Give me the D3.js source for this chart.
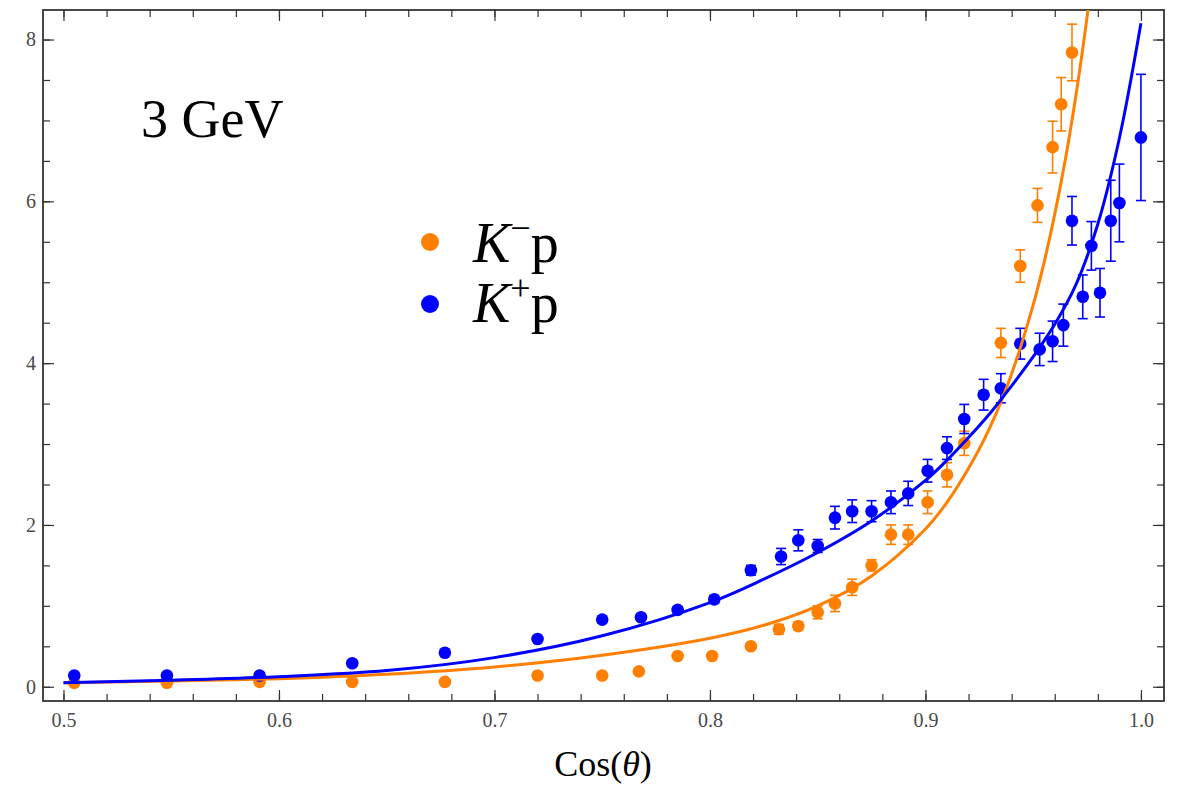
<!DOCTYPE html>
<html>
  <head>
    <meta charset="UTF-8">
    <title>3 GeV</title>
    <script src="https://cdn.jsdelivr.net/npm/d3@7"></script>
    <style>
      body { margin: 0; background: #fff; }
      svg { display: block; }
      text { font-family: "Liberation Serif", "Times New Roman", serif; }
      .tick text { fill: #4a4a4a; font-size: 20px; }
      .tick line { stroke: #333; stroke-width: 1.2; }
    </style>
  </head>
  <body>
    <svg width="1181" height="792"></svg>
  <script>

    // K- p points: cos(theta), value, error
    var kmX   = [0.505, 0.548, 0.591, 0.634, 0.677, 0.720, 0.750, 0.767, 0.785, 0.801,
                 0.819, 0.832, 0.841, 0.850, 0.858, 0.866, 0.875, 0.884, 0.892, 0.901,
                 0.910, 0.918, 0.935, 0.944, 0.952, 0.959, 0.963, 0.968];
    var kmY   = [0.05, 0.05, 0.06, 0.06, 0.06, 0.14, 0.14, 0.19, 0.38, 0.38,
                 0.50, 0.71, 0.75, 0.92, 1.03, 1.23, 1.50, 1.88, 1.88, 2.28,
                 2.62, 3.01, 4.25, 5.20, 5.95, 6.67, 7.20, 7.84];
    var kmErr = [0, 0, 0, 0, 0, 0, 0, 0, 0, 0,
                 0.03, 0.06, 0.05, 0.08, 0.10, 0.10, 0.07, 0.12, 0.12, 0.14,
                 0.15, 0.15, 0.18, 0.20, 0.21, 0.32, 0.33, 0.35];

    // K+ p points
    var kpX   = [0.505, 0.548, 0.591, 0.634, 0.677, 0.720, 0.750, 0.768, 0.785, 0.802,
                 0.819, 0.833, 0.841, 0.850, 0.858, 0.866, 0.875, 0.884, 0.892, 0.901,
                 0.910, 0.918, 0.927, 0.935, 0.944, 0.953, 0.959, 0.964, 0.968, 0.973,
                 0.977, 0.981, 0.986, 0.990, 1.000];
    var kpY   = [0.14, 0.14, 0.14, 0.29, 0.42, 0.59, 0.83, 0.86, 0.95, 1.08,
                 1.44, 1.61, 1.81, 1.74, 2.09, 2.17, 2.17, 2.28, 2.39, 2.67,
                 2.95, 3.31, 3.61, 3.69, 4.24, 4.17, 4.27, 4.47, 5.76, 4.82,
                 5.45, 4.87, 5.76, 5.98, 6.79];
    var kpErr = [0, 0, 0, 0, 0, 0, 0.04, 0.04, 0.04, 0.05,
                 0.06, 0.10, 0.13, 0.08, 0.14, 0.14, 0.13, 0.14, 0.15, 0.14,
                 0.14, 0.18, 0.19, 0.18, 0.19, 0.20, 0.25, 0.26, 0.30, 0.27,
                 0.30, 0.30, 0.50, 0.48, 0.78];

    // fitted curves
    var kmFitX = [0.50, 0.55, 0.60, 0.65, 0.70, 0.75, 0.80, 0.825, 0.85, 0.875, 0.90, 0.91,
                  0.92, 0.93, 0.94, 0.95, 0.955, 0.96, 0.965, 0.97, 0.975, 0.98];
    var kmFitY = [0.05, 0.07, 0.10, 0.155, 0.245, 0.39, 0.60, 0.76, 1.00, 1.37, 1.95, 2.28,
                  2.70, 3.21, 3.87, 4.72, 5.24, 5.84, 6.53, 7.34, 8.28, 9.38];
    var kpFitX = [0.50, 0.55, 0.60, 0.65, 0.70, 0.75, 0.80, 0.825, 0.85, 0.875, 0.90,
                  0.91, 0.92, 0.93, 0.94, 0.95, 0.96, 0.97, 0.98, 0.99, 1.00];
    var kpFitY = [0.05, 0.08, 0.125, 0.20, 0.36, 0.63, 1.04, 1.33, 1.66, 2.05, 2.55,
                  2.80, 3.08, 3.38, 3.72, 4.08, 4.48, 4.98, 5.72, 6.78, 8.20];

    var xTicks = [0.5, 0.6, 0.7, 0.8, 0.9, 1.0];
    var yTicks = [0, 2, 4, 6, 8];

    var orange = "#ff7f00", blue = "#0000ff";

    var svg = d3.select("svg"),
        pLeft = 43, pRight = 1164, pTop = 10, pBottom = 701;

    var x = d3.scaleLinear().domain([0.4905, 1.0107]).range([pLeft, pRight]);
    var y = d3.scaleLinear().domain([-0.176, 8.365]).range([pBottom, pTop]);

    svg.append("rect").attr("width", 1181).attr("height", 792).attr("fill", "#fff");

    svg.append("clipPath").attr("id", "plot")
      .append("rect").attr("x", pLeft).attr("y", pTop)
      .attr("width", pRight - pLeft).attr("height", pBottom - pTop);

    // minor ticks on all four sides
    var xMinor = d3.range(0.5, 1.0001, 0.02), yMinor = d3.range(0, 8.001, 0.5);
    function noLabel() { return ""; }

    svg.append("g").attr("transform", "translate(0," + pBottom + ")")
      .call(d3.axisBottom(x).tickValues(xMinor).tickSize(-7).tickFormat(noLabel));
    svg.append("g").attr("transform", "translate(0," + pTop + ")")
      .call(d3.axisTop(x).tickValues(xMinor).tickSize(-7).tickFormat(noLabel));
    svg.append("g").attr("transform", "translate(" + pLeft + ",0)")
      .call(d3.axisLeft(y).tickValues(yMinor).tickSize(-7).tickFormat(noLabel));
    svg.append("g").attr("transform", "translate(" + pRight + ",0)")
      .call(d3.axisRight(y).tickValues(yMinor).tickSize(-7).tickFormat(noLabel));

    // major ticks
    svg.append("g").attr("transform", "translate(0," + pBottom + ")")
      .call(d3.axisBottom(x).tickValues(xTicks).tickSize(-11).tickPadding(12)
        .tickFormat(d3.format(".1f")));
    svg.append("g").attr("transform", "translate(0," + pTop + ")")
      .call(d3.axisTop(x).tickValues(xTicks).tickSize(-11).tickFormat(noLabel));
    svg.append("g").attr("transform", "translate(" + pLeft + ",0)")
      .call(d3.axisLeft(y).tickValues(yTicks).tickSize(-11).tickPadding(7)
        .tickFormat(d3.format("d")));
    svg.append("g").attr("transform", "translate(" + pRight + ",0)")
      .call(d3.axisRight(y).tickValues(yTicks).tickSize(-11).tickFormat(noLabel));

    svg.selectAll(".domain").remove();

    svg.append("rect")
      .attr("x", pLeft).attr("y", pTop)
      .attr("width", pRight - pLeft).attr("height", pBottom - pTop)
      .attr("fill", "none").attr("stroke", "#333").attr("stroke-width", 1.8);

    // points with error bars
    function drawPoints(xs, ys, errs, color) {
      var g = svg.append("g").attr("clip-path", "url(#plot)");
      var data = xs.map(function(d, i) { return {x: d, y: ys[i], e: errs[i]}; });
      var withErr = data.filter(function(d) { return d.e > 0; });

      g.selectAll(".bar").data(withErr).enter().append("line")
        .attr("x1", function(d) { return x(d.x); })
        .attr("x2", function(d) { return x(d.x); })
        .attr("y1", function(d) { return y(d.y - d.e); })
        .attr("y2", function(d) { return y(d.y + d.e); })
        .attr("stroke", color).attr("stroke-width", 1.6);

      [-1, 1].forEach(function(s) {
        g.selectAll(".cap" + s).data(withErr).enter().append("line")
          .attr("x1", function(d) { return x(d.x) - 5; })
          .attr("x2", function(d) { return x(d.x) + 5; })
          .attr("y1", function(d) { return y(d.y + s * d.e); })
          .attr("y2", function(d) { return y(d.y + s * d.e); })
          .attr("stroke", color).attr("stroke-width", 1.6);
      });

      g.selectAll("circle").data(data).enter().append("circle")
        .attr("cx", function(d) { return x(d.x); })
        .attr("cy", function(d) { return y(d.y); })
        .attr("r", 6.3)
        .attr("fill", color);
    }

    drawPoints(kmX, kmY, kmErr, orange);
    drawPoints(kpX, kpY, kpErr, blue);

    // fitted curves
    var line = d3.line()
      .x(function(d) { return x(d[0]); })
      .y(function(d) { return y(d[1]); })
      .curve(d3.curveCatmullRom.alpha(0.5));

    svg.append("path").attr("clip-path", "url(#plot)")
      .attr("d", line(d3.zip(kmFitX, kmFitY)))
      .attr("fill", "none").attr("stroke", orange).attr("stroke-width", 3);
    svg.append("path").attr("clip-path", "url(#plot)")
      .attr("d", line(d3.zip(kpFitX, kpFitY)))
      .attr("fill", "none").attr("stroke", blue).attr("stroke-width", 3);

    // labels
    svg.append("text").attr("x", 141).attr("y", 137)
      .attr("font-size", 54).attr("fill", "#000").text("3 GeV");

    var xl = svg.append("text").attr("x", 603).attr("y", 776)
      .attr("text-anchor", "middle").attr("font-size", 36).attr("fill", "#000");
    xl.append("tspan").text("Cos(");
    xl.append("tspan").attr("font-style", "italic").text("θ");
    xl.append("tspan").text(")");

    // legend
    var legend = [{sign: "\u2212", color: orange, cy: 242, base: 262},
                  {sign: "+", color: blue, cy: 304, base: 322}];
    legend.forEach(function(l) {
      svg.append("circle").attr("cx", 430).attr("cy", l.cy).attr("r", 9).attr("fill", l.color);
      var t = svg.append("text").attr("x", 473).attr("y", l.base)
        .attr("font-size", 56).attr("fill", "#000");
      t.append("tspan").attr("font-style", "italic").text("K");
      t.append("tspan").attr("font-size", 36).attr("dy", -22).text(l.sign);
      t.append("tspan").attr("dy", 22).text("p");
    });

  </script>
  </body>
</html>
